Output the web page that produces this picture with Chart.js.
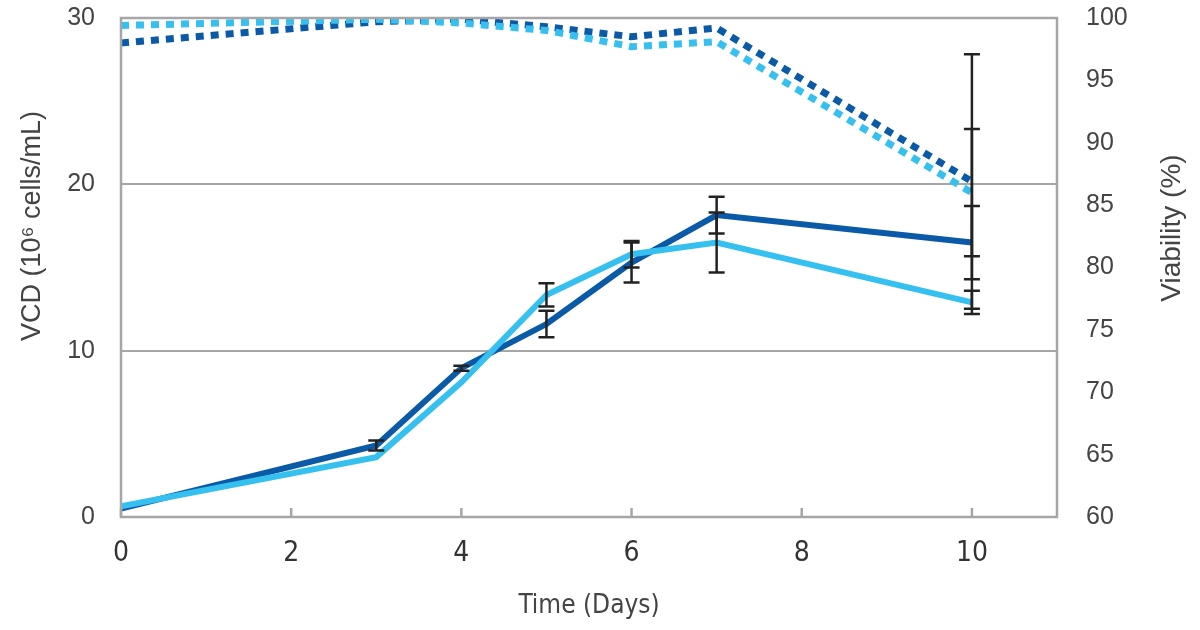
<!DOCTYPE html>
<html>
<head>
<meta charset="utf-8">
<script src="https://cdn.jsdelivr.net/npm/chart.js@4"></script>
<style>
html,body{margin:0;padding:0;background:#fff;}
#wrap{width:1200px;height:630px;}
</style>
</head>
<body>
<div id="wrap"><canvas id="growthChart" width="1200" height="630"></canvas></div>
<script>
// days sampled
let days = [0, 3, 4, 5, 6, 7, 10];

// viable cell density (10^6 cells/mL)
let vcdDark = [0.5, 4.3, 8.95, 11.6, 15.3, 18.15, 16.5];
let vcdLight = [0.65, 3.6, 8.1, 13.35, 15.8, 16.5, 12.9];
let vcdDarkErr = [0, 0.3, 0.15, 0.8, 1.2, 1.1, 2.2];
let vcdLightErr = [0, 0, 0, 0.7, 0.8, 1.8, 0.7];

// viability (%)
let viaDark = [98.0, 99.7, 99.9, 99.3, 98.5, 99.2, 86.9];
let viaLight = [99.4, 99.9, 99.6, 99.0, 97.7, 98.1, 86.0];
let viaDarkErr = [0, 0, 0, 0, 0, 0, 10.2];
let viaLightErr = [0, 0, 0, 0, 0, 0, 5.1];

let darkBlue = '#0b5aa8';
let lightBlue = '#35c0ef';
let condensed = '"Liberation Sans Narrow", "DejaVu Sans Condensed", "Roboto Condensed", sans-serif';
let regular = '"Liberation Sans", Arial, sans-serif';

function points(vals){
  return days.map(function(d, i){ return {x: d, y: vals[i]}; });
}

let frame = {
  id: 'frame',
  afterDatasetsDraw: function(chart){
    let ctx = chart.ctx;

    // error bars
    ctx.save();
    ctx.strokeStyle = '#222';
    ctx.lineWidth = 2.5;
    chart.data.datasets.forEach(function(ds){
      if(!ds.errors) return;
      let yScale = chart.scales[ds.yAxisID];
      ds.data.forEach(function(p, i){
        let e = ds.errors[i];
        if(!e) return;
        let px = chart.scales.x.getPixelForValue(p.x);
        let top = yScale.getPixelForValue(p.y + e);
        let bot = yScale.getPixelForValue(p.y - e);
        ctx.beginPath();
        ctx.moveTo(px, top); ctx.lineTo(px, bot);
        ctx.moveTo(px - 8, top); ctx.lineTo(px + 8, top);
        ctx.moveTo(px - 8, bot); ctx.lineTo(px + 8, bot);
        ctx.stroke();
      });
    });
    ctx.restore();
  },
  afterDraw: function(chart){
    let ctx = chart.ctx;
    let a = chart.chartArea;
    ctx.save();
    // plot border
    ctx.strokeStyle = '#a6a6a6';
    ctx.lineWidth = 2.5;
    ctx.strokeRect(a.left, a.top, a.right - a.left, a.bottom - a.top);
    // inside tick marks on x axis
    chart.scales.x.ticks.forEach(function(t){
      let px = chart.scales.x.getPixelForValue(t.value);
      ctx.beginPath();
      ctx.moveTo(px, a.bottom);
      ctx.lineTo(px, a.bottom - 9);
      ctx.stroke();
    });
    // y axis titles
    ctx.fillStyle = '#444';
    ctx.textAlign = 'center';
    ctx.textBaseline = 'middle';
    ctx.font = '27px ' + regular;
    ctx.translate(33, 226);
    ctx.rotate(-Math.PI / 2);
    ctx.fillText('VCD (10\u2076 cells/mL)', 0, 0);
    ctx.restore();

    ctx.save();
    ctx.fillStyle = '#444';
    ctx.textAlign = 'center';
    ctx.textBaseline = 'middle';
    ctx.font = '28px ' + regular;
    ctx.translate(1172, 228);
    ctx.rotate(-Math.PI / 2);
    ctx.fillText('Viability (%)', 0, 0);
    ctx.restore();
  }
};

function noPad(s){
  s.paddingTop = 0;
  s.paddingBottom = 0;
  s.paddingLeft = 0;
  s.paddingRight = 0;
}

let ctx = document.getElementById('growthChart').getContext('2d');

let chart = new Chart(ctx, {
  type: 'line',
  data: {
    datasets: [
      {
        label: 'Viability A',
        data: points(viaDark),
        errors: viaDarkErr,
        yAxisID: 'y2',
        borderColor: darkBlue,
        borderWidth: 7,
        borderDash: [8, 7],
        pointRadius: 0,
        tension: 0,
        order: 4
      },
      {
        label: 'Viability B',
        data: points(viaLight),
        errors: viaLightErr,
        yAxisID: 'y2',
        borderColor: lightBlue,
        borderWidth: 7,
        borderDash: [8, 7],
        pointRadius: 0,
        tension: 0,
        order: 3
      },
      {
        label: 'VCD A',
        data: points(vcdDark),
        errors: vcdDarkErr,
        yAxisID: 'y',
        borderColor: darkBlue,
        borderWidth: 6,
        pointRadius: 0,
        tension: 0,
        order: 2
      },
      {
        label: 'VCD B',
        data: points(vcdLight),
        errors: vcdLightErr,
        yAxisID: 'y',
        borderColor: lightBlue,
        borderWidth: 6,
        pointRadius: 0,
        tension: 0,
        order: 1
      }
    ]
  },
  options: {
    responsive: false,
    animation: false,
    layout: {padding: {top: 18, left: 0, right: 0, bottom: 0}},
    plugins: {
      legend: {display: false},
      tooltip: {enabled: false}
    },
    scales: {
      x: {
        type: 'linear',
        min: 0,
        max: 11,
        border: {display: false},
        grid: {display: false, drawTicks: false},
        ticks: {
          stepSize: 2,
          includeBounds: false,
          padding: 20,
          color: '#333',
          font: {size: 28, family: condensed}
        },
        title: {
          display: true,
          text: 'Time (Days)',
          color: '#444',
          font: {size: 26, family: condensed},
          padding: {top: 0, bottom: 8}
        },
        afterFit: function(s){ s.height = 113; noPad(s); }
      },
      y: {
        position: 'left',
        min: 0,
        max: 30,
        border: {display: false},
        grid: {
          drawTicks: false,
          lineWidth: 2,
          color: function(c){
            return (c.tick.value === 0 || c.tick.value === 30) ? 'rgba(0,0,0,0)' : '#a6a6a6';
          }
        },
        ticks: {
          stepSize: 10,
          padding: 26,
          color: '#444',
          font: {size: 25, family: regular}
        },
        afterFit: function(s){ s.width = 121; noPad(s); }
      },
      y2: {
        position: 'right',
        min: 60,
        max: 100,
        border: {display: false},
        grid: {display: false, drawTicks: false},
        ticks: {
          stepSize: 5,
          padding: 29,
          color: '#444',
          font: {size: 25, family: regular}
        },
        afterFit: function(s){ s.width = 143; noPad(s); }
      }
    }
  },
  plugins: [frame]
});
</script>
</body>
</html>
